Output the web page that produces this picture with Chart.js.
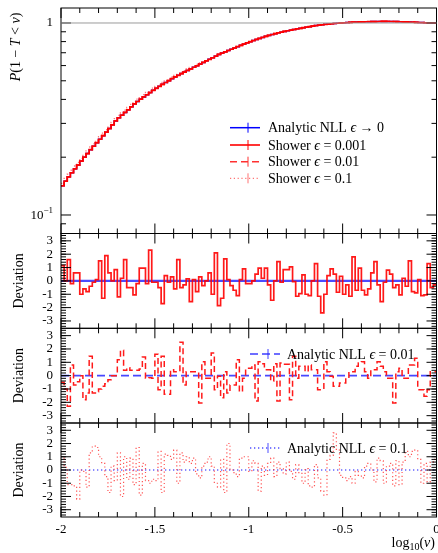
<!DOCTYPE html>
<html>
<head>
<meta charset="utf-8">
<script src="https://cdn.jsdelivr.net/npm/chart.js@4.4.1/dist/chart.umd.min.js"></script>
<style>
body { margin: 0; background: #fff; }
#wrap { position: relative; width: 438px; height: 553px; }
canvas { position: absolute; left: 0; top: 0; }
</style>
</head>
<body>
<div id="wrap">
<canvas id="c0" width="438" height="553"></canvas>
<canvas id="c1" width="438" height="553"></canvas>
<canvas id="c2" width="438" height="553"></canvas>
<canvas id="c3" width="438" height="553"></canvas>
</div>
<script>
// histogram range, 120 bins from -2 to 0 in log10(v)
var xLo = -2, xHi = 0;

// P(1-T<v), analytic NLL (the eps=0.001 and eps=0.01 showers sit on top of it)
var analyticP = [
  0.142, 0.150, 0.158, 0.166, 0.174, 0.182, 0.191, 0.200, 0.209, 0.219,
  0.228, 0.238, 0.248, 0.259, 0.270, 0.282, 0.295, 0.309, 0.321, 0.331,
  0.342, 0.353, 0.366, 0.379, 0.390, 0.401, 0.412, 0.423, 0.434, 0.446,
  0.457, 0.468, 0.479, 0.490, 0.501, 0.513, 0.524, 0.534, 0.545, 0.555,
  0.566, 0.577, 0.588, 0.599, 0.611, 0.623, 0.635, 0.647, 0.659, 0.672,
  0.686, 0.697, 0.708, 0.719, 0.730, 0.741, 0.753, 0.765, 0.776, 0.788,
  0.799, 0.810, 0.821, 0.831, 0.841, 0.852, 0.862, 0.871, 0.880, 0.889,
  0.896, 0.904, 0.911, 0.918, 0.925, 0.932, 0.938, 0.945, 0.951, 0.957,
  0.963, 0.969, 0.974, 0.979, 0.984, 0.987, 0.991, 0.994, 0.997, 1.000,
  1.003, 1.005, 1.008, 1.010, 1.011, 1.013, 1.014, 1.015, 1.016, 1.017,
  1.017, 1.018, 1.019, 1.019, 1.019, 1.018, 1.018, 1.017, 1.015, 1.014,
  1.013, 1.011, 1.010, 1.008, 1.006, 1.005, 1.003, 1.002, 1.001, 1.000
];
var shower001P = analyticP;
var shower01P = analyticP;
// eps = 0.1 shower runs a little high at small v
var shower1P = [
  0.146, 0.155, 0.163, 0.171, 0.180, 0.188, 0.197, 0.206, 0.216, 0.226,
  0.235, 0.245, 0.256, 0.267, 0.278, 0.291, 0.304, 0.318, 0.330, 0.341,
  0.352, 0.363, 0.377, 0.390, 0.401, 0.413, 0.424, 0.435, 0.446, 0.458,
  0.468, 0.479, 0.490, 0.500, 0.511, 0.523, 0.534, 0.544, 0.555, 0.565,
  0.576, 0.587, 0.597, 0.608, 0.620, 0.623, 0.635, 0.647, 0.659, 0.672,
  0.686, 0.697, 0.708, 0.719, 0.730, 0.741, 0.753, 0.765, 0.776, 0.788,
  0.799, 0.810, 0.821, 0.831, 0.841, 0.852, 0.862, 0.871, 0.880, 0.889,
  0.896, 0.904, 0.911, 0.918, 0.925, 0.932, 0.938, 0.945, 0.951, 0.957,
  0.963, 0.969, 0.974, 0.979, 0.984, 0.987, 0.991, 0.994, 0.997, 1.000,
  1.003, 1.005, 1.008, 1.010, 1.011, 1.013, 1.014, 1.015, 1.016, 1.017,
  1.017, 1.018, 1.019, 1.019, 1.019, 1.018, 1.018, 1.017, 1.015, 1.014,
  1.013, 1.011, 1.010, 1.008, 1.006, 1.005, 1.003, 1.002, 1.001, 1.000
];

// deviations (in sigma) of each shower from the analytic result
var dev001 = [
  1.15, 0, 1.6, -0.2, 0.6, 0.6, -1.0, -0.6, -0.8, -0.4,
  -0.1, 0.1, 1.5, -1.3, 1.9, 0.6, 0, 0.85, -1.2, 0.2,
  1.6, -0.5, -0.5, -1.05, -0.2, 0.95, 0.95, -0.2, 2.3, -0.1,
  -0.1, -0.5, -1.7, 0.4, -0.1, 0.3, -0.6, 1.6, -0.5, -0.3,
  0.15, -1.55, 0.1, -0.8, 0.3, -0.35, 0, 0.6, -1.0, 2.1,
  -1.85, -1.3, 1.65, 0.1, -0.35, -0.7, -1.1, 0.1, 0.9, -0.2,
  -0.2, 0.0, 0.5, 0.95, 0.2, 0.95, -0.3, -1.45, 0.0, 1.45,
  -0.1, 0.85, 0.85, 1.05, -0.05, -1.15, -0.95, 0.45, -1.0, -1.1,
  0.0, 1.3, -1.15, -2.4, -1.0, 0.4, 0.9, 0.5, -0.85, 0.35,
  -1.0, -0.3, -1.15, 1.8, -0.7, 0.95, -0.7, -1.05, -0.6, 0.6,
  1.45, -0.3, -1.55, -0.1, 0.8, 0.5, -0.5, -0.3, -1.05, 0.2,
  -0.4, 1.5, -0.8, -0.9, 0.1, -1.1, -1.05, 1.3, -0.5, -0.3
];
var dev01 = [
  -0.5, -1.0, -2.3, 0.8, -0.7, -0.45, 0.0, -1.8, -1.3, 1.45,
  -1.3, -1.2, -1.0, -0.8, -0.6, -0.3, 0.0, 0.0, 1.2, 1.9,
  0.4, 0.6, 0.4, 0.4, 0.4, 0.5, 1.4, -0.2, -0.15, -0.2,
  1.6, -1.05, 1.45, -1.4, -1.4, 0.45, 0.3, 0.3, 2.5, -0.7,
  0.3, 0.3, 0.3, 0.3, -2.05, 1.05, -0.2, -0.2, 1.7, -1.05,
  -0.05, -1.65, 0.3, -1.3, -0.7, -0.7, 1.2, -1.2, -0.2, 0.55,
  0.55, 0.8, -1.9, 1.05, 0.9, 0.45, 0.45, -0.4, 0.9, -1.9,
  0.95, 0.85, 0.85, -1.8, 1.45, -0.2, 0.7, 0.7, 0.3, 0.8,
  0.45, 0.45, -1.05, -1.05, 1.05, 0.3, -0.05, -0.8, -0.8, -0.55,
  -0.55, -0.2, 0.3, 0.3, 0.7, 0.95, 1.05, 0.3, -0.2, 0.45,
  0.45, 1.05, 0.7, 0.3, -0.2, -0.2, -2.05, 0.3, 0.55, -0.2,
  -0.2, 0.8, 0.8, 1.3, -1.05, -1.05, -1.55, -1.05, 0.3, 0.3
];
var dev1 = [
  1.0, 0.2, -1.1, -1.1, -1.2, -2.2, 0.0, -0.1, -1.3, 1.3,
  1.8, 1.7, 1.0, 0.5, -0.5, -1.7, 0.3, -0.8, 1.3, -2.0,
  1.0, -0.7, 0.9, -1.1, 1.7, -1.9, 0.5, -0.8, -1.0, -0.7,
  -0.8, 1.4, -1.7, 1.2, 1.1, 0.8, 1.5, -1.0, 1.3, 0.6,
  1.0, 0.5, 0.9, -0.3, -0.6, 0.3, 0.6, 1.0, 0.3, -1.0,
  -1.3, 0.8, -1.7, 2.0, 0.0, -0.2, -0.5, 0.9, 1.0, 1.0,
  -0.1, 0.7, 0.5, -1.6, 0.3, -0.4, 0.5, 0.9, -0.5, 0.6,
  0.1, -0.3, 0.6, -0.1, -0.7, 0.4, -0.2, -1.0, 0.1, -1.2,
  -1.3, 0.4, -0.6, -1.6, -1.9, 0.8, 1.1, 2.8, 1.5, -0.4,
  -0.6, -0.8, -0.5, -1.0, -0.1, -0.4, -0.6, 0.3, 0.5, 0.0,
  -0.9, 0.9, 0.7, -1.0, 0.3, 0.5, -1.2, 0.7, -1.1, 0.6,
  1.4, 1.0, 1.4, 1.5, 0.8, -1.0, 0.5, -0.9, 0.6, 0.8
];
var analyticDev = [0, 0];

// axis decorations
var xMajor = [-2, -1.5, -1, -0.5, 0];
var xMinor = [-1.9, -1.8, -1.7, -1.6, -1.4, -1.3, -1.2, -1.1, -0.9, -0.8, -0.7, -0.6, -0.4, -0.3, -0.2, -0.1];
var xTickLabels = ['-2', '-1.5', '-1', '-0.5', '0'];
var mainMajor = [0.1, 1];
var mainMinor = [0.09, 0.2, 0.3, 0.4, 0.5, 0.6, 0.7, 0.8, 0.9];
var devMajor = [-3, -2, -1, 0, 1, 2, 3];
var devTickLabels = ['-3', '-2', '-1', '0', '1', '2', '3'];

var SERIF = '"Liberation Serif", "DejaVu Serif", serif';
var EPS = '\u03f5';

function hist(vals) {
  var w = (xHi - xLo) / vals.length;
  var pts = vals.map(function (v, i) { return { x: xLo + i * w, y: v }; });
  pts.push({ x: xHi, y: vals[vals.length - 1] });
  return pts;
}
function flat(vals) {
  return [{ x: xLo, y: vals[0] }, { x: xHi, y: vals[1] }];
}

function rich(ctx, parts, x, y, align) {
  var w = 0;
  parts.forEach(function (p) { ctx.font = p[1]; w += ctx.measureText(p[0]).width; });
  var cx = align === 'right' ? x - w : (align === 'center' ? x - w / 2 : x);
  ctx.textAlign = 'left';
  parts.forEach(function (p) {
    ctx.font = p[1];
    ctx.fillText(p[0], cx, y + (p[2] || 0));
    cx += ctx.measureText(p[0]).width;
  });
}

function legendLine(ctx, x0, x1, y, color, dash, width) {
  ctx.save();
  ctx.strokeStyle = color;
  ctx.lineWidth = width;
  ctx.setLineDash(dash);
  ctx.beginPath(); ctx.moveTo(x0, y); ctx.lineTo(x1, y); ctx.stroke();
  ctx.setLineDash([]);
  ctx.lineWidth = 1;
  var cx = (x0 + x1) / 2 + 3;
  ctx.beginPath(); ctx.moveTo(cx, y - 5); ctx.lineTo(cx, y + 5); ctx.stroke();
  ctx.restore();
}

var framePlugin = {
  id: 'frame',
  afterDatasetsDraw: function (chart, args, o) {
    var ctx = chart.ctx, a = chart.chartArea;
    var xs = chart.scales.x, ys = chart.scales.y;
    ctx.save();
    ctx.strokeStyle = '#000';
    ctx.lineWidth = 1;
    ctx.strokeRect(a.left, a.top, a.right - a.left, a.bottom - a.top);
    ctx.beginPath();
    xMajor.forEach(function (v) {
      var px = xs.getPixelForValue(v);
      ctx.moveTo(px, a.top); ctx.lineTo(px, a.top + 10);
      ctx.moveTo(px, a.bottom); ctx.lineTo(px, a.bottom - 10);
    });
    xMinor.forEach(function (v) {
      var px = xs.getPixelForValue(v);
      ctx.moveTo(px, a.top); ctx.lineTo(px, a.top + 5);
      ctx.moveTo(px, a.bottom); ctx.lineTo(px, a.bottom - 5);
    });
    o.yMajor.forEach(function (v) {
      var py = ys.getPixelForValue(v);
      ctx.moveTo(a.left, py); ctx.lineTo(a.left + 10, py);
      ctx.moveTo(a.right, py); ctx.lineTo(a.right - 10, py);
    });
    o.yMinor.forEach(function (v) {
      var py = ys.getPixelForValue(v);
      if (py < a.top || py > a.bottom) return;
      ctx.moveTo(a.left, py); ctx.lineTo(a.left + 5, py);
      ctx.moveTo(a.right, py); ctx.lineTo(a.right - 5, py);
    });
    ctx.stroke();

    ctx.fillStyle = '#000';
    ctx.textBaseline = 'middle';
    if (o.main) {
      ctx.font = '13px ' + SERIF;
      ctx.textAlign = 'right';
      ctx.fillText('1', 53, ys.getPixelForValue(1));
      var py = ys.getPixelForValue(0.1);
      rich(ctx, [['10', '13px ' + SERIF, 1], ['\u22121', '9px ' + SERIF, -4]], 53, py, 'right');
      // y title
      ctx.save();
      ctx.translate(20, 47);
      ctx.rotate(-Math.PI / 2);
      ctx.textBaseline = 'alphabetic';
      rich(ctx, [['P', 'italic 14px ' + SERIF], ['(1 \u2212 ', '14px ' + SERIF], ['T', 'italic 14px ' + SERIF],
        [' < ', '14px ' + SERIF], ['v', 'italic 14px ' + SERIF], [')', '14px ' + SERIF]], 0, 0, 'center');
      ctx.restore();
      // grey reference line at 1
      ctx.strokeStyle = '#9a9a9a';
      ctx.beginPath();
      var p1 = ys.getPixelForValue(1);
      ctx.moveTo(a.left, p1); ctx.lineTo(a.right, p1);
      ctx.stroke();
      // legend
      var rows = [
        [127.7, '#0000ff', [], 1.5, [['Analytic NLL ', ''], [EPS, 'i'], [' \u2192 0', '']]],
        [145, '#ff0000', [], 1.6, [['Shower ', ''], [EPS, 'i'], [' = 0.001', '']]],
        [161.7, '#ff3030', [7, 4], 1.6, [['Shower ', ''], [EPS, 'i'], [' = 0.01', '']]],
        [178.3, 'rgba(255,80,80,0.8)', [1.2, 2.6], 1.2, [['Shower ', ''], [EPS, 'i'], [' = 0.1', '']]]
      ];
      rows.forEach(function (r) {
        legendLine(ctx, 230, 260, r[0], r[1], r[2], r[3]);
        ctx.fillStyle = '#000';
        ctx.textBaseline = 'middle';
        rich(ctx, r[4].map(function (p) { return [p[0], (p[1] === 'i' ? 'italic ' : '') + '14px ' + SERIF]; }), 268, r[0] + 1, 'left');
      });
    } else {
      ctx.font = '13px ' + SERIF;
      ctx.textAlign = 'right';
      devMajor.forEach(function (v, i) {
        ctx.fillText(devTickLabels[i], 53, ys.getPixelForValue(v));
      });
      ctx.save();
      ctx.translate(23, (a.top + a.bottom) / 2);
      ctx.rotate(-Math.PI / 2);
      ctx.textBaseline = 'alphabetic';
      ctx.textAlign = 'center';
      ctx.font = '14px ' + SERIF;
      ctx.fillText('Deviation', 0, 0);
      ctx.restore();
      if (o.legend) {
        legendLine(ctx, 250, 280, o.legend.y, o.legend.color, o.legend.dash, 1.5);
        ctx.fillStyle = '#000';
        ctx.textBaseline = 'middle';
        rich(ctx, [['Analytic NLL ', '14px ' + SERIF], [EPS, 'italic 14px ' + SERIF], [' = ' + o.legend.eps, '14px ' + SERIF]], 287, o.legend.y + 1, 'left');
      }
    }
    if (o.bottomLabels) {
      ctx.font = '13px ' + SERIF;
      ctx.textAlign = 'center';
      ctx.textBaseline = 'middle';
      xMajor.forEach(function (v, i) {
        ctx.fillText(xTickLabels[i], xs.getPixelForValue(v), 530);
      });
      ctx.textBaseline = 'alphabetic';
      rich(ctx, [['log', '14px ' + SERIF], ['10', '10px ' + SERIF, 3], ['(', '14px ' + SERIF], ['v', 'italic 14px ' + SERIF], [')', '14px ' + SERIF]], 435, 547, 'right');
    }
    ctx.restore();
  }
};

function makeChart(id, top, bottom, datasets, yScale, frameOpts) {
  return new Chart(document.getElementById(id), {
    type: 'line',
    data: { datasets: datasets },
    options: {
      responsive: false,
      animation: false,
      events: [],
      layout: { padding: { left: 61, right: 1.5, top: top, bottom: 553 - bottom } },
      elements: { point: { radius: 0 }, line: { tension: 0 } },
      scales: {
        x: { type: 'linear', min: xLo, max: xHi, display: false },
        y: Object.assign({ display: false }, yScale)
      },
      plugins: { legend: { display: false }, tooltip: { enabled: false }, frame: frameOpts }
    },
    plugins: [framePlugin]
  });
}

function ds(data, color, width, dash, order) {
  return { data: data, borderColor: color, borderWidth: width, borderDash: dash, stepped: true, fill: false, order: order };
}

var devMinor = [];
for (var t = -3.4; t <= 3.41; t += 0.2) devMinor.push(Math.round(t * 10) / 10);

// main panel
makeChart('c0', 8, 233.5, [
  ds(hist(shower001P), '#ff0000', 1.7, [], 1),
  ds(hist(shower01P), '#ff2020', 1.6, [7, 4], 2),
  ds(hist(shower1P), 'rgba(255,70,70,0.75)', 1.3, [1.2, 2.6], 3),
  ds(hist(analyticP), '#0000ff', 1.5, [], 4)
], { type: 'logarithmic', min: 0.0801, max: 1.197 }, { main: true, yMajor: mainMajor, yMinor: mainMinor });

// eps = 0.001 deviation
makeChart('c1', 233.5, 328.3, [
  ds(hist(dev001), 'rgba(255,0,0,0.9)', 1.7, [], 1),
  ds(flat(analyticDev), 'rgba(30,30,255,0.8)', 2.2, [], 2)
], { type: 'linear', min: -3.55, max: 3.55 }, { yMajor: devMajor, yMinor: devMinor });

// eps = 0.01 deviation
makeChart('c2', 328.3, 423, [
  ds(hist(dev01), '#ff1a1a', 1.5, [6, 3.5], 1),
  ds(flat(analyticDev), 'rgba(40,40,255,0.85)', 1.6, [8, 4], 2)
], { type: 'linear', min: -3.55, max: 3.55 }, { yMajor: devMajor, yMinor: devMinor,
  legend: { y: 354, color: 'rgba(40,40,255,0.9)', dash: [8, 4], eps: '0.01' } });

// eps = 0.1 deviation
makeChart('c3', 423, 517, [
  ds(hist(dev1), 'rgba(255,40,40,0.8)', 1.2, [1.2, 2.6], 1),
  ds(flat(analyticDev), 'rgba(60,60,255,0.8)', 1.3, [1.3, 2.7], 2)
], { type: 'linear', min: -3.55, max: 3.55 }, { yMajor: devMajor, yMinor: devMinor, bottomLabels: true,
  legend: { y: 448, color: 'rgba(60,60,255,0.9)', dash: [1.3, 2.7], eps: '0.1' } });
</script>
</body>
</html>
